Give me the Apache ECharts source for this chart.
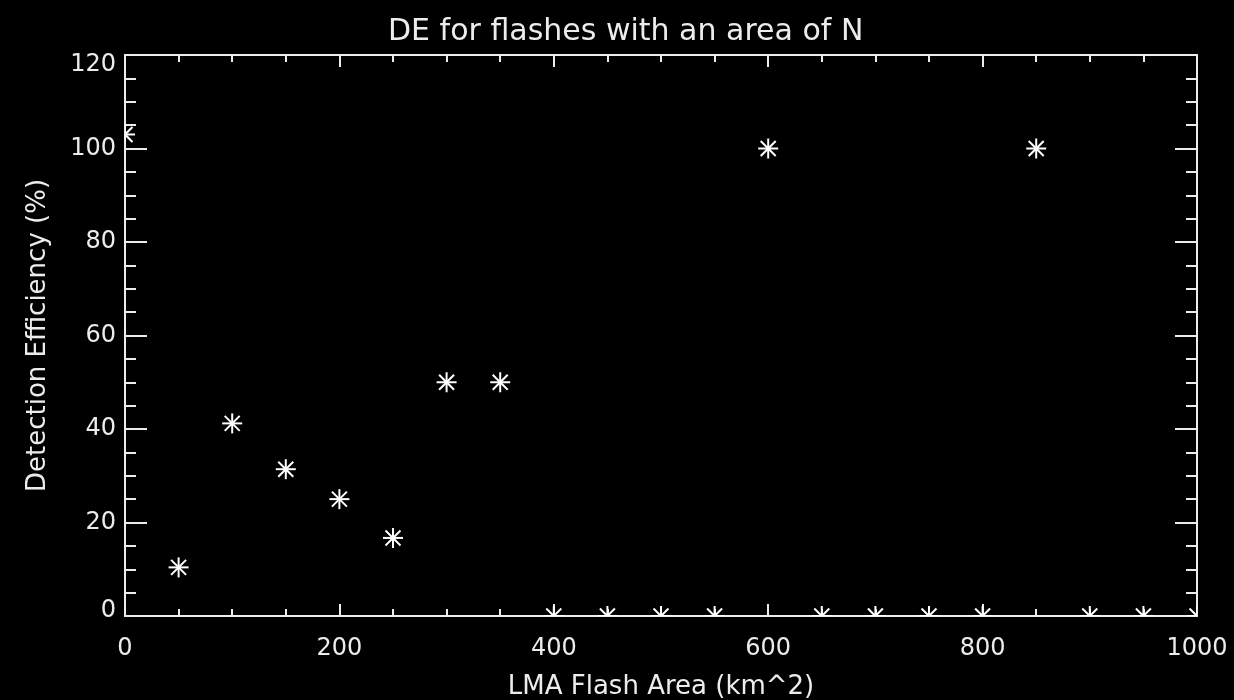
<!DOCTYPE html>
<html>
<head>
<meta charset="utf-8">
<script src="https://cdn.jsdelivr.net/npm/echarts@6/dist/echarts.min.js"></script>
<style>
  html, body { margin: 0; padding: 0; background: #000; }
  #chart { width: 1234px; height: 700px; }
</style>
</head>
<body>
<div id="chart"></div>
<script>
// Flash area bins (km^2) and detection efficiency per bin (%)
const flashArea = [0, 50, 100, 150, 200, 250, 300, 350, 400, 450, 500,
                   550, 600, 650, 700, 750, 800, 850, 900, 950, 1000];
const detectionEfficiency = [103, 10.4, 41.2, 31.4, 25, 16.7, 50, 50, 0, 0, 0,
                             0, 100, 0, 0, 0, 0, 100, 0, 0, 0];
const xTicks = [0, 200, 400, 600, 800, 1000];
const yTicks = [0, 20, 40, 60, 80, 100, 120];

const fg = '#ececec';
const font = 'DejaVu Sans';

function axisBase(showLabels, majorLen, minorLen) {
  return {
    axisLine: { show: true, onZero: false, lineStyle: { color: fg, width: 2 } },
    axisTick: { show: true, inside: true, length: majorLen, lineStyle: { color: fg, width: 2 } },
    minorTick: { show: true, splitNumber: 4, length: minorLen, lineStyle: { color: fg, width: 2 } },
    splitLine: { show: false },
    axisLabel: { show: showLabels }
  };
}

// eight-armed asterisk, clipped to the plot frame by the series
function renderAsterisk(params, api) {
  const p = api.coord([api.value(0), api.value(1)]);
  const r = 10, d = 7.5;
  const style = { stroke: '#ffffff', lineWidth: 2 };
  const seg = (x1, y1, x2, y2) => ({
    type: 'line',
    shape: { x1: p[0] + x1, y1: p[1] + y1, x2: p[0] + x2, y2: p[1] + y2 },
    style: style
  });
  return {
    type: 'group',
    children: [
      seg(0, -r, 0, r),
      seg(-r, 0, r, 0),
      seg(-d, -d, d, d),
      seg(-d, d, d, -d)
    ]
  };
}

const chart = echarts.init(document.getElementById('chart'));
chart.setOption({
  backgroundColor: '#000',
  animation: false,
  title: {
    text: 'DE for flashes with an area of N',
    left: 383,
    top: 12,
    textStyle: { color: fg, fontFamily: font, fontSize: 30, fontWeight: 'normal' }
  },
  grid: { left: 125, right: 37, top: 55, bottom: 84, containLabel: false, outerBoundsMode: 'none' },
  xAxis: [
    Object.assign(axisBase(true, 12, 7), {
      type: 'value', position: 'bottom',
      min: xTicks[0], max: xTicks[xTicks.length - 1], interval: xTicks[1] - xTicks[0],
      name: 'LMA Flash Area (km^2)',
      nameLocation: 'middle', nameGap: 58,
      nameTextStyle: { color: fg, fontFamily: font, fontSize: 26 },
      axisLabel: {
        show: true, color: fg, fontFamily: font, fontSize: 24, margin: 21,
        formatter: v => String(v)
      }
    }),
    Object.assign(axisBase(false, 12, 7), {
      type: 'value', position: 'top',
      min: xTicks[0], max: xTicks[xTicks.length - 1], interval: xTicks[1] - xTicks[0]
    })
  ],
  yAxis: [
    Object.assign(axisBase(true, 22, 11), {
      type: 'value', position: 'left',
      min: yTicks[0], max: yTicks[yTicks.length - 1], interval: yTicks[1] - yTicks[0],
      name: 'Detection Efficiency (%)',
      nameLocation: 'middle', nameGap: 74, nameRotate: 90,
      nameTextStyle: { color: fg, fontFamily: font, fontSize: 26 },
      axisLabel: {
        show: true, color: fg, fontFamily: font, fontSize: 24, margin: 9,
        formatter: function (v) {
          if (v === yTicks[0]) return '{lo|' + v + '}';
          if (v === yTicks[yTicks.length - 1]) return '{hi|' + v + '}';
          return String(v);
        },
        rich: {
          lo: { color: fg, fontFamily: font, fontSize: 24, padding: [0, 0, 10, 0] },
          hi: { color: fg, fontFamily: font, fontSize: 24, padding: [20, 0, 0, 0] }
        }
      }
    }),
    Object.assign(axisBase(false, 22, 11), {
      type: 'value', position: 'right',
      min: yTicks[0], max: yTicks[yTicks.length - 1], interval: yTicks[1] - yTicks[0]
    })
  ],
  series: [{
    type: 'custom',
    xAxisIndex: 0,
    yAxisIndex: 0,
    clip: true,
    renderItem: renderAsterisk,
    encode: { x: 0, y: 1 },
    data: flashArea.map((x, i) => [x, detectionEfficiency[i]])
  }]
});
</script>
</body>
</html>
